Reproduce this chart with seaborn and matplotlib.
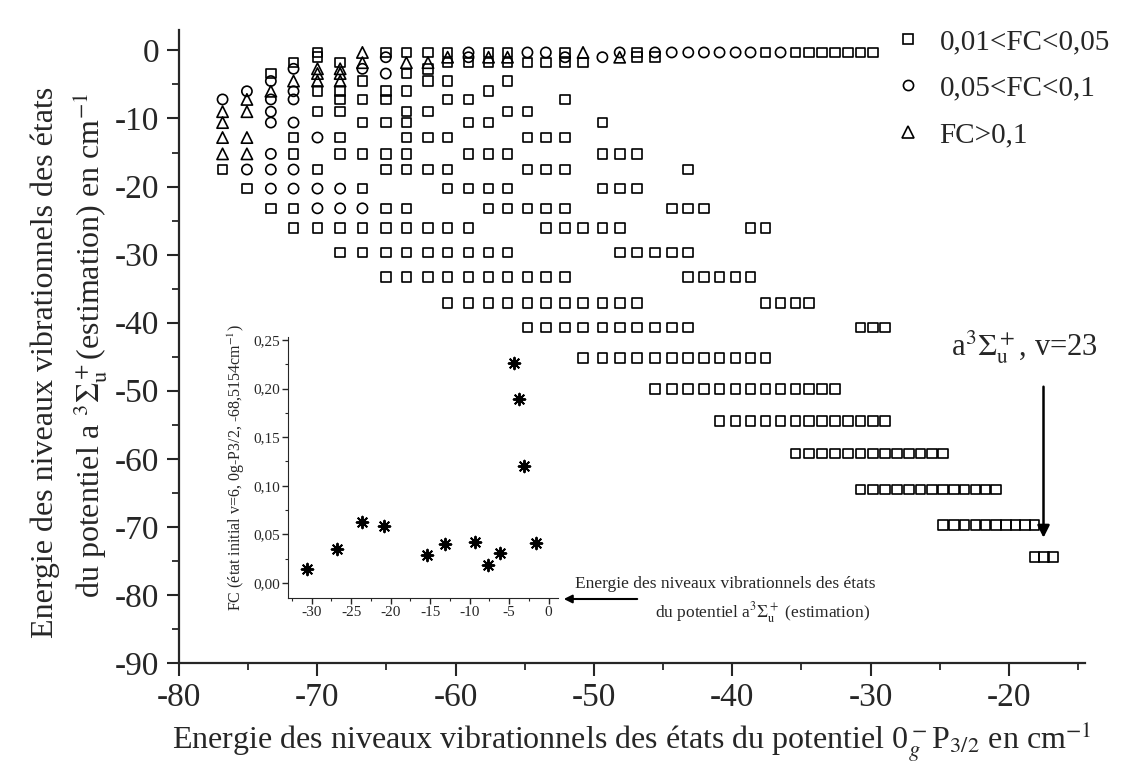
import matplotlib
matplotlib.use('Agg')
import matplotlib.pyplot as plt
from matplotlib.lines import Line2D
from matplotlib.ticker import MultipleLocator, FuncFormatter
import seaborn as sns
import pandas as pd

W, H = 1129, 777

# energies of the 0g- P3/2 levels (columns, x) in cm-1
og_levels = [-76.85, -75.09, -73.36, -71.72, -69.99, -68.35, -66.74, -65.05, -63.56, -62.0,
             -60.58, -59.07, -57.62, -56.25, -54.81, -53.48, -52.09, -50.79, -49.39, -48.14,
             -46.87, -45.59, -44.38, -43.18, -42.05, -40.92, -39.76, -38.68, -37.6, -36.51,
             -35.43, -34.47, -33.51, -32.57, -31.65, -30.74, -29.84, -28.96, -28.09, -27.24,
             -26.4, -25.58, -24.77, -23.98, -23.2, -22.43, -21.68, -20.95, -20.22, -19.52,
             -18.82, -18.14, -17.48, -16.83]

# estimated energies of the a3Sigma_u+ levels (rows, y) in cm-1
a3_levels = [-0.3, -1.0, -1.8, -2.7, -3.4, -4.5, -6.0, -7.2, -9.0, -10.6, -12.8, -15.2,
             -17.5, -20.3, -23.2, -26.1, -29.7, -33.3, -37.1, -40.7, -45.2, -49.7, -54.4,
             -59.2, -64.5, -69.7, -74.4]

# 0,01<FC<0,05 : (a3 index, first og index, last og index)
runs_low = [(0, 4, 4), (0, 7, 10), (0, 12, 13), (0, 16, 16), (0, 20, 20), (0, 28, 28), (0, 30, 36),
            (1, 4, 4), (1, 20, 21),
            (2, 3, 3), (2, 5, 5), (2, 10, 17),
            (3, 9, 9),
            (4, 2, 2), (4, 8, 8),
            (5, 6, 6), (5, 9, 10), (5, 13, 13),
            (6, 4, 5), (6, 7, 8), (6, 12, 12),
            (7, 5, 7), (7, 10, 11), (7, 16, 16),
            (8, 4, 5), (8, 8, 9), (8, 13, 14),
            (9, 6, 8), (9, 11, 12), (9, 18, 18),
            (10, 3, 3), (10, 5, 5), (10, 8, 10), (10, 14, 16),
            (11, 3, 3), (11, 5, 8), (11, 11, 13), (11, 18, 20),
            (12, 0, 0), (12, 4, 4), (12, 7, 10), (12, 14, 16), (12, 23, 23),
            (13, 1, 1), (13, 6, 6), (13, 10, 13), (13, 18, 20),
            (14, 2, 3), (14, 7, 8), (14, 12, 16), (14, 22, 24),
            (15, 3, 11), (15, 15, 19), (15, 27, 28),
            (16, 5, 13), (16, 19, 23),
            (17, 7, 16), (17, 23, 27),
            (18, 10, 20), (18, 28, 31),
            (19, 14, 23), (19, 35, 37),
            (20, 17, 28), (21, 21, 33), (22, 25, 37), (23, 30, 42),
            (24, 35, 47), (25, 42, 51), (26, 51, 53)]

# 0,05<FC<0,1 : (a3 index, og index)
cells_mid = [(0, 11), (0, 14), (0, 15), (0, 19), (0, 21), (0, 22), (0, 23), (0, 24), (0, 25),
             (0, 26), (0, 27), (0, 29),
             (1, 7), (1, 11), (1, 16), (1, 18),
             (3, 3), (3, 6), (4, 7), (5, 2), (6, 1), (6, 3), (7, 0), (7, 2), (7, 3),
             (8, 2), (9, 2), (9, 3), (10, 4), (11, 2), (12, 1), (12, 2), (12, 3),
             (13, 2), (13, 3), (13, 4), (13, 5), (14, 4), (14, 5), (14, 6)]

# FC>0,1 : (a3 index, og index)
cells_high = [(0, 6), (0, 17), (1, 10), (1, 12), (1, 13), (1, 19), (2, 6), (2, 8), (2, 9),
              (3, 4), (3, 5), (4, 4), (4, 5), (5, 3), (5, 4), (5, 5), (6, 2), (7, 1),
              (8, 0), (8, 1), (9, 0), (10, 0), (10, 1), (11, 0), (11, 1)]

# inset : FC from the level v=6 of 0g- P3/2 (-68,5154 cm-1)
fc_energy = [-30.6, -26.8, -23.6, -20.8, -15.4, -13.1, -9.3, -7.65, -6.2, -4.4, -3.7, -3.15, -1.6]
fc_value = [0.014, 0.035, 0.063, 0.059, 0.029, 0.040, 0.042, 0.019, 0.031, 0.226, 0.189, 0.120, 0.041]

labels = ['0,01<FC<0,05', '0,05<FC<0,1', 'FC>0,1']

pts = []
for r, c0, c1 in runs_low:
    for c in range(c0, c1 + 1):
        pts.append((og_levels[c], a3_levels[r], labels[0]))
for r, c in cells_mid:
    pts.append((og_levels[c], a3_levels[r], labels[1]))
for r, c in cells_high:
    pts.append((og_levels[c], a3_levels[r], labels[2]))
df = pd.DataFrame(pts, columns=['og', 'a3', 'classe'])
df_in = pd.DataFrame({'E': fc_energy, 'FC': fc_value})

sns.set_style('ticks')
plt.rcParams['font.family'] = ['Liberation Serif', 'DejaVu Serif']
plt.rcParams['mathtext.fontset'] = 'stix'
plt.rcParams['axes.unicode_minus'] = False


def px(x, y):
    return x / W, 1 - y / H


fig = plt.figure(figsize=(W / 100, H / 100), dpi=100)
ax = fig.add_axes([179 / W, 1 - 663 / H, (1085 - 179) / W, (663 - 30) / H])

# marker, scatter size, legend size
mk = {labels[0]: ('s', 48, 7.0), labels[1]: ('o', 54, 7.3), labels[2]: ('^', 66, 8.1)}
for lab in labels:
    m, s, _ = mk[lab]
    sub = df[df['classe'] == lab]
    sns.scatterplot(data=sub, x='og', y='a3', marker=m, s=s, color='black', ax=ax, legend=False)
    coll = ax.collections[-1]
    coll.set_facecolor('none')
    coll.set_edgecolor('black')
    coll.set_linewidth(1.2)

ax.set_xlim(-80, -14.5)
ax.set_ylim(-90, 3)
ax.set_xlabel('')
ax.set_ylabel('')
ax.xaxis.set_major_locator(MultipleLocator(10))
ax.xaxis.set_minor_locator(MultipleLocator(5))
ax.yaxis.set_major_locator(MultipleLocator(10))
ax.yaxis.set_minor_locator(MultipleLocator(5))
ax.tick_params(which='major', direction='out', length=9, width=1.5, labelsize=24, pad=5)
ax.tick_params(which='minor', direction='out', length=5, width=1.3)
sns.despine(ax=ax)
for sp in ['left', 'bottom']:
    ax.spines[sp].set_linewidth(1.6)

handles = [Line2D([], [], ls='none', marker=mk[l][0], mfc='none', mec='black', mew=1.2,
                  ms=mk[l][2]) for l in labels]
ax.legend(handles, labels, loc='upper left', bbox_to_anchor=px(893, 29), bbox_transform=fig.transFigure,
          frameon=False, fontsize=21, handlelength=1.0, handletextpad=0.6, labelspacing=0.68,
          borderpad=0, borderaxespad=0)

ax.text(-18.9, -43.6, r'a$^3\Sigma_\mathrm{u}^+$, v=23', fontsize=22, ha='center', va='center')
ax.annotate('', xy=(-17.5, -72.0), xytext=(-17.5, -49.0),
            arrowprops=dict(arrowstyle='-|>', color='black', lw=1.8, mutation_scale=18))

fig.text(*px(632, 742), r'Energie des niveaux vibrationnels des états du potentiel 0$_g^-$P$_{3/2}$ en cm$^{-1}$',
         fontsize=23, ha='center', va='center')
fig.text(*px(45, 362), 'Energie des niveaux vibrationnels des états', fontsize=23,
         rotation=90, ha='center', va='center')
fig.text(*px(90, 345), r'du potentiel a $^3\Sigma_\mathrm{u}^+$(estimation) en cm$^{-1}$', fontsize=23,
         rotation=90, ha='center', va='center')

# inset
ax_in = fig.add_axes([288 / W, 1 - 598 / H, (558 - 288) / W, (598 - 337) / H])
sns.scatterplot(data=df_in, x='E', y='FC', marker=(8, 2, 0), s=70, color='black', ax=ax_in, legend=False)
ax_in.collections[-1].set_edgecolor('black')
ax_in.collections[-1].set_linewidth(1.4)
ax_in.set_xlim(-33, 1.2)
ax_in.set_ylim(-0.0154, 0.253)
ax_in.set_xlabel('')
ax_in.set_ylabel(r'FC (état initial v=6, 0g-P3/2, -68,5154cm$^{-1}$)', fontsize=11.5, labelpad=4)
ax_in.xaxis.set_major_locator(MultipleLocator(5))
ax_in.xaxis.set_minor_locator(MultipleLocator(2.5))
ax_in.yaxis.set_major_locator(MultipleLocator(0.05))
ax_in.yaxis.set_minor_locator(MultipleLocator(0.025))
ax_in.yaxis.set_major_formatter(FuncFormatter(lambda v, p: f'{v:.2f}'.replace('.', ',')))
ax_in.xaxis.set_major_formatter(FuncFormatter(lambda v, p: f'{v:.0f}'))
ax_in.tick_params(which='major', direction='out', length=4, width=1, labelsize=11, pad=2)
ax_in.tick_params(which='minor', direction='out', length=2.5, width=0.8)
sns.despine(ax=ax_in)
ax_in.set_facecolor('none')

fig.text(*px(575, 584), 'Energie des niveaux vibrationnels des états', fontsize=12.5, ha='left', va='center')
fig.text(*px(655, 613), r'du potentiel a$^3\Sigma_\mathrm{u}^+$ (estimation)', fontsize=12.5, ha='left', va='center')
fig.add_artist(matplotlib.patches.FancyArrowPatch(px(640, 599), px(561, 599), transform=fig.transFigure,
                                                  arrowstyle='-|>', mutation_scale=12, lw=1.5, color='black'))

fig.savefig('out.png', dpi=100)
